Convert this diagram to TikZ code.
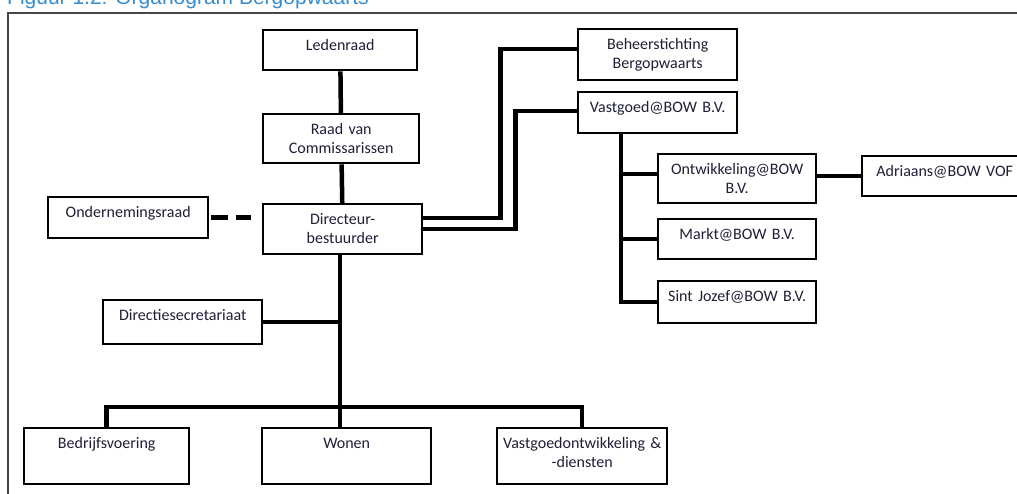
\documentclass[tikz,border=0pt]{standalone}
\usepackage{fontspec}
\setmainfont{Carlito}
\newfontfamily\captionfont{Liberation Sans}
\usepackage{tikz}

\definecolor{inkblue}{RGB}{30,30,55}
\definecolor{figblue}{RGB}{55,140,205}
\definecolor{framegray}{RGB}{70,70,70}

\begin{document}
\begin{tikzpicture}[x=1pt, y=-1pt,
        unit/.style={rectangle, draw, line width=2.4pt, anchor=north west,
            align=center, inner xsep=2pt, inner ysep=1pt, text height=19pt,
            text width=155pt, text=inkblue, font=\fontsize{16}{19}\selectfont},
        link/.style={line width=4.5pt},
        dashed link/.style={link, dash pattern=on 17pt off 8pt}]
        \useasboundingbox (0,0) rectangle (1017,493);

        % caption and frame
        \node[anchor=base west, inner sep=0pt, text=figblue,
            font=\captionfont\fontsize{21}{24}\selectfont] (caption) at (7,4)
            {Figuur 1.2: Organogram Bergopwaarts};
        \draw[framegray, line width=1.3pt] (8,500) -- (8,13) -- (1030,13);

        % left column
        \node[unit, text width=150pt, text depth=19pt] (ledenraad) at (262,29) {Ledenraad};
        \node[unit, text width=152pt, text depth=28pt] (raad) at (262,113) {Raad van\\Commissarissen};
        \node[unit, text depth=29pt] (directeur) at (262,203) {Directeur-\\bestuurder};
        \node[unit, text width=156pt, text depth=20pt] (or) at (47,196) {Ondernemingsraad};
        \node[unit, text depth=23pt] (secretariaat) at (102,299) {Directiesecretariaat};

        % right column
        \node[unit, text depth=30pt] (beheer) at (577,28) {Beheerstichting\\Bergopwaarts};
        \node[unit, text depth=20pt] (vastgoed) at (577,91) {Vastgoed@BOW B.V.};
        \node[unit, text width=154pt, text depth=28pt] (ontwikkeling) at (657,153) {Ontwikkeling@BOW\\B.V.};
        \node[unit, text width=154pt, text depth=19pt] (markt) at (657,218) {Markt@BOW B.V.};
        \node[unit, text width=154pt, text depth=21pt] (sintjozef) at (657,280) {Sint Jozef@BOW B.V.};
        \node[unit, text width=161pt, text depth=19pt] (adriaans) at (861,155) {Adriaans@BOW VOF};

        % bottom row
        \node[unit, text width=161pt, text depth=35pt] (bedrijf) at (23,427) {Bedrijfsvoering};
        \node[unit, text width=165pt, text depth=35pt] (wonen) at (261,427) {Wonen};
        \node[unit, text width=166pt, text depth=35pt] (vastontw) at (496,427) {Vastgoedontwikkeling \&\\-diensten};

        \coordinate (bus) at (340,407);

        \draw[link] (ledenraad) -- (raad);
        \draw[link] (raad) -- (directeur);
        \draw[dashed link] ([xshift=2pt]or.east) -- ([xshift=-11pt]directeur.west |- or.east);
        \draw[link] (directeur.south -| bus) -- (wonen.north -| bus);
        \draw[link] (secretariaat.east) -- (secretariaat.east -| bus);
        \draw[link] (bedrijf.north) |- (bus) -| (vastontw.north);

        \draw[link] ([yshift=11pt]directeur.east) -- ++(77,0) |- ([yshift=5.5pt]beheer.west);
        \draw[link] (directeur.east) -- ++(92,0) |- ([yshift=1.5pt]vastgoed.west);
        \draw[link] ([xshift=-36.5pt]vastgoed.south) |- (sintjozef.west);
        \draw[link] ([yshift=4.5pt]ontwikkeling.west) -- ++(-37,0);
        \draw[link] (markt.west) -- ++(-37,0);
        \draw[link] ([yshift=2.5pt]ontwikkeling.east) -- (adriaans.west);
    \end{tikzpicture}
\end{document}
